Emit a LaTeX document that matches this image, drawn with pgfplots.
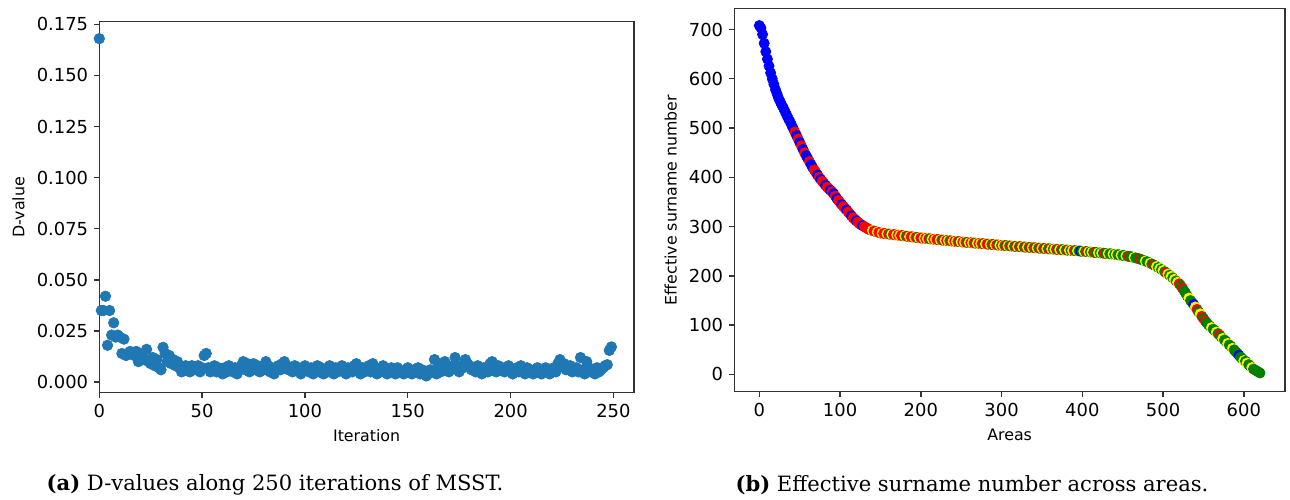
\documentclass[border=0pt]{standalone}
\usepackage{pgfplots}
\pgfplotsset{compat=1.18}
\usepackage{fontspec}
\setmainfont{DejaVu Sans}
\newfontfamily\capfont{DejaVu Serif}

\definecolor{mplblue}{HTML}{1F77B4}
\definecolor{mplgreen}{HTML}{008000}
\definecolor{spine}{HTML}{333333}

\pgfplotsset{
  panel/.style={
    scale only axis,
    anchor=south west,
    axis line style={spine, line width=0.8pt},
    tick align=outside,
    tick pos=left,
    major tick length=0.1cm,
    every tick/.style={spine, line width=0.8pt},
    tick label style={font=\fontsize{10.2}{12}\selectfont},
    label style={font=\fontsize{9}{11}\selectfont},
    /pgf/number format/assume math mode=true,
  }
}

\pgfplotstableread[row sep=\\]{
x y\\
0 0.168\\ 1 0.035\\ 2 0.035\\ 3 0.042\\ 4 0.018\\ 5 0.035\\ 6 0.023\\ 7 0.029\\ 8 0.022\\ 9 0.023\\
10 0.022\\ 11 0.014\\ 12 0.021\\ 13 0.013\\ 14 0.014\\ 15 0.015\\ 16 0.014\\ 17 0.013\\ 18 0.015\\ 19 0.010\\
20 0.013\\ 21 0.012\\ 22 0.011\\ 23 0.016\\ 24 0.010\\ 25 0.009\\ 26 0.012\\ 27 0.008\\ 28 0.011\\ 29 0.007\\
30 0.006\\ 31 0.017\\ 32 0.014\\ 33 0.010\\ 34 0.013\\ 35 0.009\\ 36 0.011\\ 37 0.008\\ 38 0.010\\ 39 0.007\\
40 0.005\\ 41 0.006\\ 42 0.008\\ 43 0.007\\ 44 0.005\\ 45 0.008\\ 46 0.006\\ 47 0.007\\ 48 0.008\\ 49 0.005\\
50 0.007\\ 51 0.013\\ 52 0.014\\ 53 0.007\\ 54 0.005\\ 55 0.006\\ 56 0.008\\ 57 0.005\\ 58 0.007\\ 59 0.006\\
60 0.004\\ 61 0.007\\ 62 0.005\\ 63 0.008\\ 64 0.006\\ 65 0.005\\ 66 0.007\\ 67 0.004\\ 68 0.006\\ 69 0.008\\
70 0.010\\ 71 0.006\\ 72 0.009\\ 73 0.005\\ 74 0.007\\ 75 0.009\\ 76 0.006\\ 77 0.008\\ 78 0.005\\ 79 0.007\\
80 0.006\\ 81 0.010\\ 82 0.008\\ 83 0.005\\ 84 0.007\\ 85 0.004\\ 86 0.006\\ 87 0.008\\ 88 0.006\\ 89 0.009\\
90 0.010\\ 91 0.008\\ 92 0.006\\ 93 0.007\\ 94 0.005\\ 95 0.008\\ 96 0.006\\ 97 0.007\\ 98 0.004\\ 99 0.006\\
100 0.008\\ 101 0.006\\ 102 0.005\\ 103 0.007\\ 104 0.004\\ 105 0.006\\ 106 0.008\\ 107 0.005\\ 108 0.007\\ 109 0.004\\
110 0.006\\ 111 0.005\\ 112 0.008\\ 113 0.006\\ 114 0.004\\ 115 0.007\\ 116 0.005\\ 117 0.006\\ 118 0.008\\ 119 0.005\\
120 0.004\\ 121 0.007\\ 122 0.006\\ 123 0.005\\ 124 0.008\\ 125 0.009\\ 126 0.006\\ 127 0.004\\ 128 0.007\\ 129 0.005\\
130 0.006\\ 131 0.008\\ 132 0.005\\ 133 0.009\\ 134 0.007\\ 135 0.004\\ 136 0.006\\ 137 0.005\\ 138 0.008\\ 139 0.006\\
140 0.004\\ 141 0.005\\ 142 0.007\\ 143 0.006\\ 144 0.004\\ 145 0.007\\ 146 0.006\\ 147 0.005\\ 148 0.004\\ 149 0.006\\
150 0.007\\ 151 0.005\\ 152 0.004\\ 153 0.006\\ 154 0.005\\ 155 0.007\\ 156 0.004\\ 157 0.006\\ 158 0.005\\ 159 0.003\\
160 0.004\\ 161 0.006\\ 162 0.005\\ 163 0.011\\ 164 0.004\\ 165 0.009\\ 166 0.005\\ 167 0.006\\ 168 0.010\\ 169 0.007\\
170 0.005\\ 171 0.006\\ 172 0.008\\ 173 0.012\\ 174 0.006\\ 175 0.005\\ 176 0.008\\ 177 0.007\\ 178 0.011\\ 179 0.009\\
180 0.008\\ 181 0.006\\ 182 0.007\\ 183 0.005\\ 184 0.008\\ 185 0.006\\ 186 0.004\\ 187 0.007\\ 188 0.006\\ 189 0.005\\
190 0.009\\ 191 0.010\\ 192 0.007\\ 193 0.005\\ 194 0.008\\ 195 0.006\\ 196 0.007\\ 197 0.005\\ 198 0.006\\ 199 0.008\\
200 0.005\\ 201 0.004\\ 202 0.006\\ 203 0.007\\ 204 0.005\\ 205 0.008\\ 206 0.006\\ 207 0.004\\ 208 0.007\\ 209 0.005\\
210 0.006\\ 211 0.004\\ 212 0.005\\ 213 0.007\\ 214 0.006\\ 215 0.004\\ 216 0.005\\ 217 0.007\\ 218 0.005\\ 219 0.004\\
220 0.006\\ 221 0.007\\ 222 0.005\\ 223 0.009\\ 224 0.011\\ 225 0.008\\ 226 0.009\\ 227 0.006\\ 228 0.007\\ 229 0.008\\
230 0.005\\ 231 0.006\\ 232 0.007\\ 233 0.005\\ 234 0.012\\ 235 0.006\\ 236 0.004\\ 237 0.010\\ 238 0.007\\ 239 0.005\\
240 0.006\\ 241 0.004\\ 242 0.007\\ 243 0.005\\ 244 0.006\\ 245 0.007\\ 246 0.008\\ 247 0.0085\\ 248 0.0155\\ 249 0.0172\\
}\dvalues

\pgfplotstableread[row sep=\\]{
x y c\\
0 708 b\\ 2 703 b\\ 4 690 b\\ 6 672 b\\ 8 655 b\\ 10 640 b\\ 12 626 b\\ 14 612 b\\ 16 600 b\\ 18 589 b\\
20 578 b\\ 22 569 b\\ 24 560 b\\ 26 553 b\\ 28 546 b\\ 30 540 b\\ 32 533 b\\ 34 526 b\\ 36 519 b\\ 38 513 b\\
40 506 b\\ 42 499 b\\ 44 492 r\\ 46 485 b\\ 48 478 r\\ 50 471 b\\ 52 464 r\\ 54 457 b\\ 56 450 r\\ 58 444 b\\
60 438 b\\ 62 432 r\\ 64 426 b\\ 66 420 b\\ 68 415 r\\ 70 410 r\\ 72 405 b\\ 74 400 r\\ 76 396 b\\ 78 392 r\\
80 388 r\\ 82 384 b\\ 84 380 r\\ 86 377 r\\ 88 374 b\\ 90 371 r\\ 92 367 b\\ 94 362 r\\ 96 357 b\\ 98 353 r\\
100 349 r\\ 102 345 b\\ 104 341 r\\ 106 337 r\\ 108 334 b\\ 110 330 r\\ 112 326 r\\ 114 322 b\\ 116 318 r\\ 118 315 r\\
120 312 b\\ 122 309 r\\ 124 306 r\\ 126 304 r\\ 128 302 b\\ 130 300 r\\ 132 298 r\\ 134 296 r\\ 136 294 r\\ 138 293 r\\
140 292 y\\ 142 291 r\\ 144 290 r\\ 146 289 y\\ 148 288 r\\ 150 287 r\\ 152 286.6 y\\ 154 286.2 r\\ 156 285.8 r\\ 158 285.4 y\\
160 285 r\\ 162 284.6 g\\ 164 284.2 y\\ 166 283.8 r\\ 168 283.4 r\\ 170 283 y\\ 172 282.6 r\\ 174 282.2 y\\ 176 281.8 r\\ 178 281.4 r\\
180 281 y\\ 182 280.6 g\\ 184 280.2 r\\ 186 279.8 y\\ 188 279.4 r\\ 190 279 r\\ 192 278.6 y\\ 194 278.2 r\\ 196 277.8 g\\ 198 277.4 y\\
200 277 r\\ 202 276.7 r\\ 204 276.4 y\\ 206 276 r\\ 208 275.7 y\\ 210 275.4 r\\ 212 275 g\\ 214 274.7 y\\ 216 274.4 r\\ 218 274 y\\
220 273.8 r\\ 222 273.5 r\\ 224 273.1 y\\ 226 272.8 g\\ 228 272.5 r\\ 230 272.2 y\\ 232 271.8 r\\ 234 271.5 y\\ 236 271.2 g\\ 238 270.8 r\\
240 270.5 y\\ 242 270.2 r\\ 244 269.9 y\\ 246 269.6 r\\ 248 269.3 g\\ 250 269 y\\ 252 268.7 r\\ 254 268.4 y\\ 256 268.2 r\\ 258 267.9 g\\
260 267.6 y\\ 262 267.4 r\\ 264 267.1 y\\ 266 266.8 r\\ 268 266.5 g\\ 270 266.2 y\\ 272 266 r\\ 274 265.7 y\\ 276 265.4 r\\ 278 265.2 g\\
280 264.9 y\\ 282 264.6 r\\ 284 264.3 r\\ 286 264 y\\ 288 263.7 g\\ 290 263.4 r\\ 292 263.1 y\\ 294 262.8 r\\ 296 262.6 g\\ 298 262.3 y\\
300 262 r\\ 302 261.8 y\\ 304 261.5 g\\ 306 261.3 r\\ 308 261 y\\ 310 260.8 g\\ 312 260.5 r\\ 314 260.3 y\\ 316 260 g\\ 318 259.8 r\\
320 259.6 y\\ 322 259.3 g\\ 324 259.1 r\\ 326 258.9 y\\ 328 258.6 g\\ 330 258.4 r\\ 332 258.2 y\\ 334 257.9 g\\ 336 257.7 r\\ 338 257.4 y\\
340 257.2 g\\ 342 257 r\\ 344 256.7 y\\ 346 256.5 g\\ 348 256.2 r\\ 350 256 y\\ 352 255.8 g\\ 354 255.5 r\\ 356 255.3 y\\ 358 255 g\\
360 254.8 r\\ 362 254.6 y\\ 364 254.3 g\\ 366 254.1 y\\ 368 253.9 r\\ 370 253.6 g\\ 372 253.4 y\\ 374 253.2 r\\ 376 252.9 g\\ 378 252.7 y\\
380 252.5 g\\ 382 252.2 r\\ 384 252 y\\ 386 251.8 g\\ 388 251.5 y\\ 390 251.3 r\\ 392 251 g\\ 394 250.8 y\\ 396 250.5 g\\ 398 250.3 b\\
400 250 g\\ 402 249.7 y\\ 404 249.4 g\\ 406 249.1 r\\ 408 248.8 y\\ 410 248.5 g\\ 412 248.2 y\\ 414 247.9 g\\ 416 247.6 r\\ 418 247.3 g\\
420 247 y\\ 422 246.7 g\\ 424 246.4 y\\ 426 246.1 g\\ 428 245.8 r\\ 430 245.5 g\\ 432 245.2 y\\ 434 244.9 g\\ 436 244.6 g\\ 438 244.3 y\\
440 244 g\\ 442 243.5 y\\ 444 243 g\\ 446 242.5 g\\ 448 242 y\\ 450 241.5 g\\ 452 241 g\\ 454 240.5 y\\ 456 240 g\\ 458 239.5 r\\
460 239 g\\ 462 238.2 g\\ 464 237.4 y\\ 466 236.6 g\\ 468 235.8 g\\ 470 235 g\\ 472 233.8 r\\ 474 232.6 g\\ 476 231.4 g\\ 478 230.2 y\\
480 229 g\\ 482 227.4 g\\ 484 225.8 y\\ 486 224.2 g\\ 488 222.6 r\\ 490 221 g\\ 492 219 y\\ 494 217 g\\ 496 215 y\\ 498 213 g\\
500 211 y\\ 502 208.6 g\\ 504 206.2 r\\ 506 203.8 y\\ 508 201.4 g\\ 510 199 y\\ 512 196 g\\ 514 193 y\\ 516 190 g\\ 518 187 y\\
520 184 r\\ 522 180 g\\ 524 175 r\\ 526 170 g\\ 528 165 g\\ 530 159 g\\ 532 155 y\\ 534 150 g\\ 536 146 g\\ 538 142 b\\
540 137 y\\ 542 132 r\\ 544 127 g\\ 546 123 y\\ 548 118 r\\ 550 114 g\\ 552 109 r\\ 554 105 g\\ 556 101 g\\ 558 98 g\\
560 95 y\\ 562 92 g\\ 564 89 g\\ 566 86 y\\ 568 83 g\\ 570 80 r\\ 572 76 g\\ 574 73 y\\ 576 70 g\\ 578 67 g\\
580 63 y\\ 582 60 g\\ 584 57 g\\ 586 53 y\\ 588 50 g\\ 590 46 g\\ 592 43 g\\ 594 39 b\\ 596 35 g\\ 598 32 g\\
600 28 y\\ 602 27 g\\ 604 23 y\\ 606 20 g\\ 608 17 g\\ 610 14 y\\ 612 11 g\\ 614 9 g\\ 616 7 g\\ 618 5 g\\
620 3 g\\
}\areas

\begin{document}
\begin{tikzpicture}
\useasboundingbox (0,0) rectangle (25.8,-9.98);

% (a) D-values
\begin{axis}[panel,
  at={(1.986cm,-7.854cm)},
  width=10.694cm, height=7.42cm,
  xmin=0, xmax=260,
  ymin=-0.0052, ymax=0.1763,
  xtick={0,50,100,150,200,250},
  ytick={0,0.025,0.05,0.075,0.1,0.125,0.15,0.175},
  scaled y ticks=false,
  yticklabel style={/pgf/number format/.cd, fixed, fixed zerofill, precision=3},
  xlabel={Iteration},
  ylabel={D-value},
]
\addplot[only marks, mark=*, mark size=3.0pt, color=mplblue] table[x=x, y=y] {\dvalues};
\end{axis}

% (b) effective surname number
\begin{axis}[panel,
  at={(14.686cm,-7.834cm)},
  width=11.014cm, height=7.668cm,
  xmin=-31, xmax=651,
  ymin=-35, ymax=743,
  xtick={0,100,200,300,400,500,600},
  ytick={0,100,200,300,400,500,600,700},
  xlabel={Areas},
  ylabel={Effective surname number},
]
\addplot[scatter, only marks, mark size=2.9pt,
  scatter src=explicit symbolic,
  scatter/classes={
    b={mark=*, draw=blue, fill=blue},
    r={mark=*, draw=red, fill=red},
    y={mark=*, draw=yellow, fill=yellow},
    g={mark=*, draw=mplgreen, fill=mplgreen}}]
  table[x=x, y=y, meta=c] {\areas};
\end{axis}

\node[font=\capfont\fontsize{12}{14}\selectfont] at (5.5,-9.7) {\textbf{(a)} D-values along 250 iterations of MSST.};
\node[font=\capfont\fontsize{12}{14}\selectfont] at (19.44,-9.7) {\textbf{(b)} Effective surname number across areas.};
\end{tikzpicture}
\end{document}
